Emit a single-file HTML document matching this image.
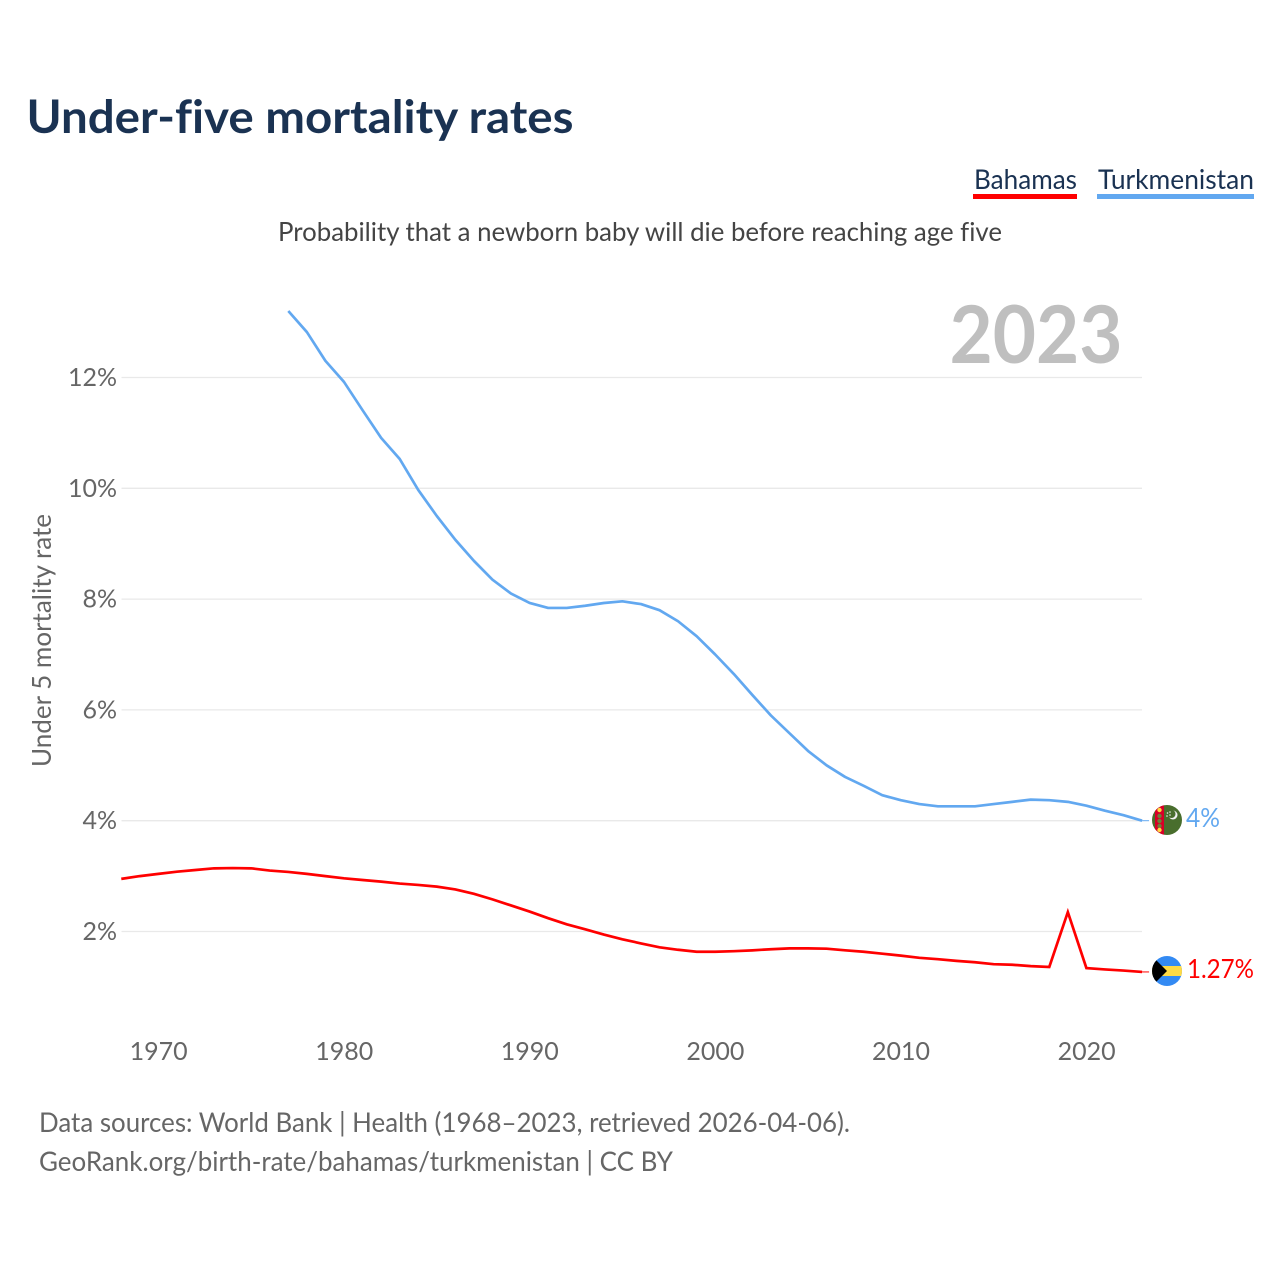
<!DOCTYPE html>
<html lang="en">
<head>
<meta charset="utf-8">
<title>Under-five mortality rates</title>
<style>
html,body{margin:0;padding:0;background:#fff;width:1280px;height:1280px;overflow:hidden}
svg{display:block}
text{font-family:"Lato","Carlito","Liberation Sans",sans-serif;font-variant-ligatures:none}
</style>
</head>
<body>
<svg id="chart" xmlns="http://www.w3.org/2000/svg" width="1280" height="1280" viewBox="0 0 1280 1280">
  <rect width="1280" height="1280" fill="#fff"/>
  <text x="26.500" y="133" font-size="46" font-weight="700" fill="#1a3252" textLength="547" lengthAdjust="spacingAndGlyphs">Under-five mortality rates</text>
  <g>
    <text x="974" y="189" font-size="27" fill="#1a3252" textLength="103" lengthAdjust="spacingAndGlyphs">Bahamas</text>
    <rect x="973" y="194" width="104" height="5" fill="#ff0000"/>
  </g>
  <g>
    <text x="1098" y="189" font-size="27" fill="#1a3252" textLength="156" lengthAdjust="spacingAndGlyphs">Turkmenistan</text>
    <rect x="1097" y="194" width="157" height="5" fill="#62a8f0"/>
  </g>
  <text x="278" y="241" font-size="26" fill="#444" textLength="724" lengthAdjust="spacingAndGlyphs">Probability that a newborn baby will die before reaching age five</text>
  <text x="949.500" y="363" font-size="80" font-weight="700" fill="#bfbfbf" textLength="173" lengthAdjust="spacingAndGlyphs">2023</text>
  <g id="grid"></g>
  <g id="yticks"></g>
  <g id="xticks"></g>
  <text transform="translate(51 767) rotate(-90)" x="0" y="0" font-size="26" fill="#666" textLength="253" lengthAdjust="spacingAndGlyphs">Under 5 mortality rate</text>
  <g id="series"></g>

  <defs>
    <clipPath id="flag-clip-tm"><circle cx="1167" cy="820" r="15"/></clipPath>
    <clipPath id="flag-clip-bs"><circle cx="1167" cy="971" r="15"/></clipPath>
  </defs>
  <g clip-path="url(#flag-clip-tm)">
    <rect x="1152" y="805" width="30" height="30" fill="#496e2d"/>
    <rect x="1155" y="805" width="9" height="30" fill="#d80027"/>
    <circle cx="1159.500" cy="810" r="2.200" fill="#ffda44"/>
    <circle cx="1159.500" cy="816" r="2.200" fill="#6f7f3a"/>
    <circle cx="1159.500" cy="821" r="2.200" fill="#6f7f3a"/>
    <circle cx="1159.500" cy="826" r="2.200" fill="#6f7f3a"/>
    <circle cx="1159.500" cy="830" r="2.200" fill="#ffda44"/>
    <circle cx="1173" cy="815" r="4.500" fill="#f0f0f0"/>
    <circle cx="1171.500" cy="814" r="4" fill="#496e2d"/>
    <circle cx="1170" cy="812" r="0.800" fill="#f0f0f0"/>
    <circle cx="1167.500" cy="813" r="0.800" fill="#f0f0f0"/>
    <circle cx="1167" cy="816" r="0.800" fill="#f0f0f0"/>
    <circle cx="1170" cy="815" r="0.800" fill="#f0f0f0"/>
  </g>
  <g clip-path="url(#flag-clip-bs)">
    <rect x="1152" y="956" width="30" height="30" fill="#338af3"/>
    <rect x="1152" y="966" width="30" height="10" fill="#ffda44"/>
    <path d="M1156 960 L1167 971 L1156 982 L1150 982 L1150 960 Z" fill="#000"/>
  </g>
  <text x="1186" y="827" font-size="26" fill="#62a8f0" textLength="34" lengthAdjust="spacingAndGlyphs">4%</text>
  <text x="1187" y="978" font-size="26" fill="#ff0000" textLength="67" lengthAdjust="spacingAndGlyphs">1.27%</text>

  <text x="39" y="1132" font-size="27" fill="#666" textLength="811" lengthAdjust="spacingAndGlyphs">Data sources: World Bank | Health (1968–2023, retrieved 2026-04-06).</text>
  <text x="39" y="1171" font-size="27" fill="#666" textLength="634" lengthAdjust="spacingAndGlyphs">GeoRank.org/birth-rate/bahamas/turkmenistan | CC BY</text>
</svg>
<script>
const yTickValues = [2, 4, 6, 8, 10, 12];
const xTickYears = [1970, 1980, 1990, 2000, 2010, 2020];
const bahamasStartYear = 1968;
const bahamasValues = [2.95, 3.0, 3.04, 3.08, 3.11, 3.14, 3.145, 3.14, 3.1, 3.075, 3.04, 3.0, 2.96, 2.93, 2.9, 2.865, 2.84, 2.81, 2.76, 2.68, 2.58, 2.47, 2.36, 2.24, 2.13, 2.04, 1.945, 1.86, 1.785, 1.715, 1.67, 1.635, 1.635, 1.645, 1.66, 1.68, 1.695, 1.695, 1.69, 1.66, 1.635, 1.6, 1.565, 1.525, 1.5, 1.47, 1.445, 1.41, 1.4, 1.375, 1.36, 2.35, 1.34, 1.315, 1.295, 1.27];
const turkmenistanStartYear = 1977;
const turkmenistanValues = [13.2, 12.82, 12.3, 11.92, 11.41, 10.91, 10.53, 9.97, 9.5, 9.07, 8.69, 8.35, 8.1, 7.93, 7.84, 7.84, 7.88, 7.93, 7.96, 7.91, 7.8, 7.6, 7.33, 7.0, 6.65, 6.27, 5.9, 5.58, 5.26, 5.0, 4.79, 4.63, 4.46, 4.37, 4.3, 4.26, 4.26, 4.26, 4.3, 4.34, 4.38, 4.37, 4.34, 4.27, 4.18, 4.1, 4.0];

const NS = 'http://www.w3.org/2000/svg';
function xScale(year) { return 158.4 + (year - 1970) * 18.56; }
function yScale(value) { return 1042.3 - value * 55.4; }
function make(tag, attrs, parent, text) {
  const el = document.createElementNS(NS, tag);
  for (const k in attrs) el.setAttribute(k, attrs[k]);
  if (text !== undefined) el.textContent = text;
  parent.appendChild(el);
  return el;
}
const gridGroup = document.getElementById('grid');
const yGroup = document.getElementById('yticks');
const xGroup = document.getElementById('xticks');
const seriesGroup = document.getElementById('series');

yTickValues.forEach(function (v) {
  const line = make('line', { x1: 121.5, x2: 1142, y1: yScale(v), y2: yScale(v), stroke: '#e9e9e9', 'stroke-width': 1.3 }, gridGroup);
  
  
  const label = make('text', { x: 117, y: yScale(v) + 8.5, 'text-anchor': 'end', 'font-size': 25, fill: '#666' }, yGroup, v + '%');
  
  
});

xTickYears.forEach(function (y) {
  const label = make('text', { x: 158.6 + (y - 1970) * 18.56, y: 1060, 'text-anchor': 'middle', 'font-size': 25, fill: '#666' }, xGroup, String(y));
  
  
});

function linePoints(startYear, values) {
  return values.map(function (v, i) {
    return xScale(startYear + i).toFixed(2) + ',' + yScale(v).toFixed(2);
  }).join(' ');
}

const bahamasLine = make('polyline', { points: linePoints(bahamasStartYear, bahamasValues), fill: 'none', stroke: '#ff0000', 'stroke-width': 2.7, 'stroke-linejoin': 'miter' }, seriesGroup);



const turkmenistanLine = make('polyline', { points: linePoints(turkmenistanStartYear, turkmenistanValues), fill: 'none', stroke: '#62a8f0', 'stroke-width': 2.7, 'stroke-linejoin': 'round' }, seriesGroup);



const lastBahamas = bahamasValues[bahamasValues.length - 1];
const lastTurkmenistan = turkmenistanValues[turkmenistanValues.length - 1];
const lastYear = bahamasStartYear + bahamasValues.length - 1;

const bahamasStub = make('line', { x1: xScale(lastYear), x2: xScale(lastYear) + 7, y1: yScale(lastBahamas), y2: yScale(lastBahamas), stroke: '#ff0000', 'stroke-width': 1 }, seriesGroup);



const turkmenistanStub = make('line', { x1: xScale(lastYear), x2: xScale(lastYear) + 7, y1: yScale(lastTurkmenistan), y2: yScale(lastTurkmenistan), stroke: '#62a8f0', 'stroke-width': 1 }, seriesGroup);


</script>
</body>
</html>
